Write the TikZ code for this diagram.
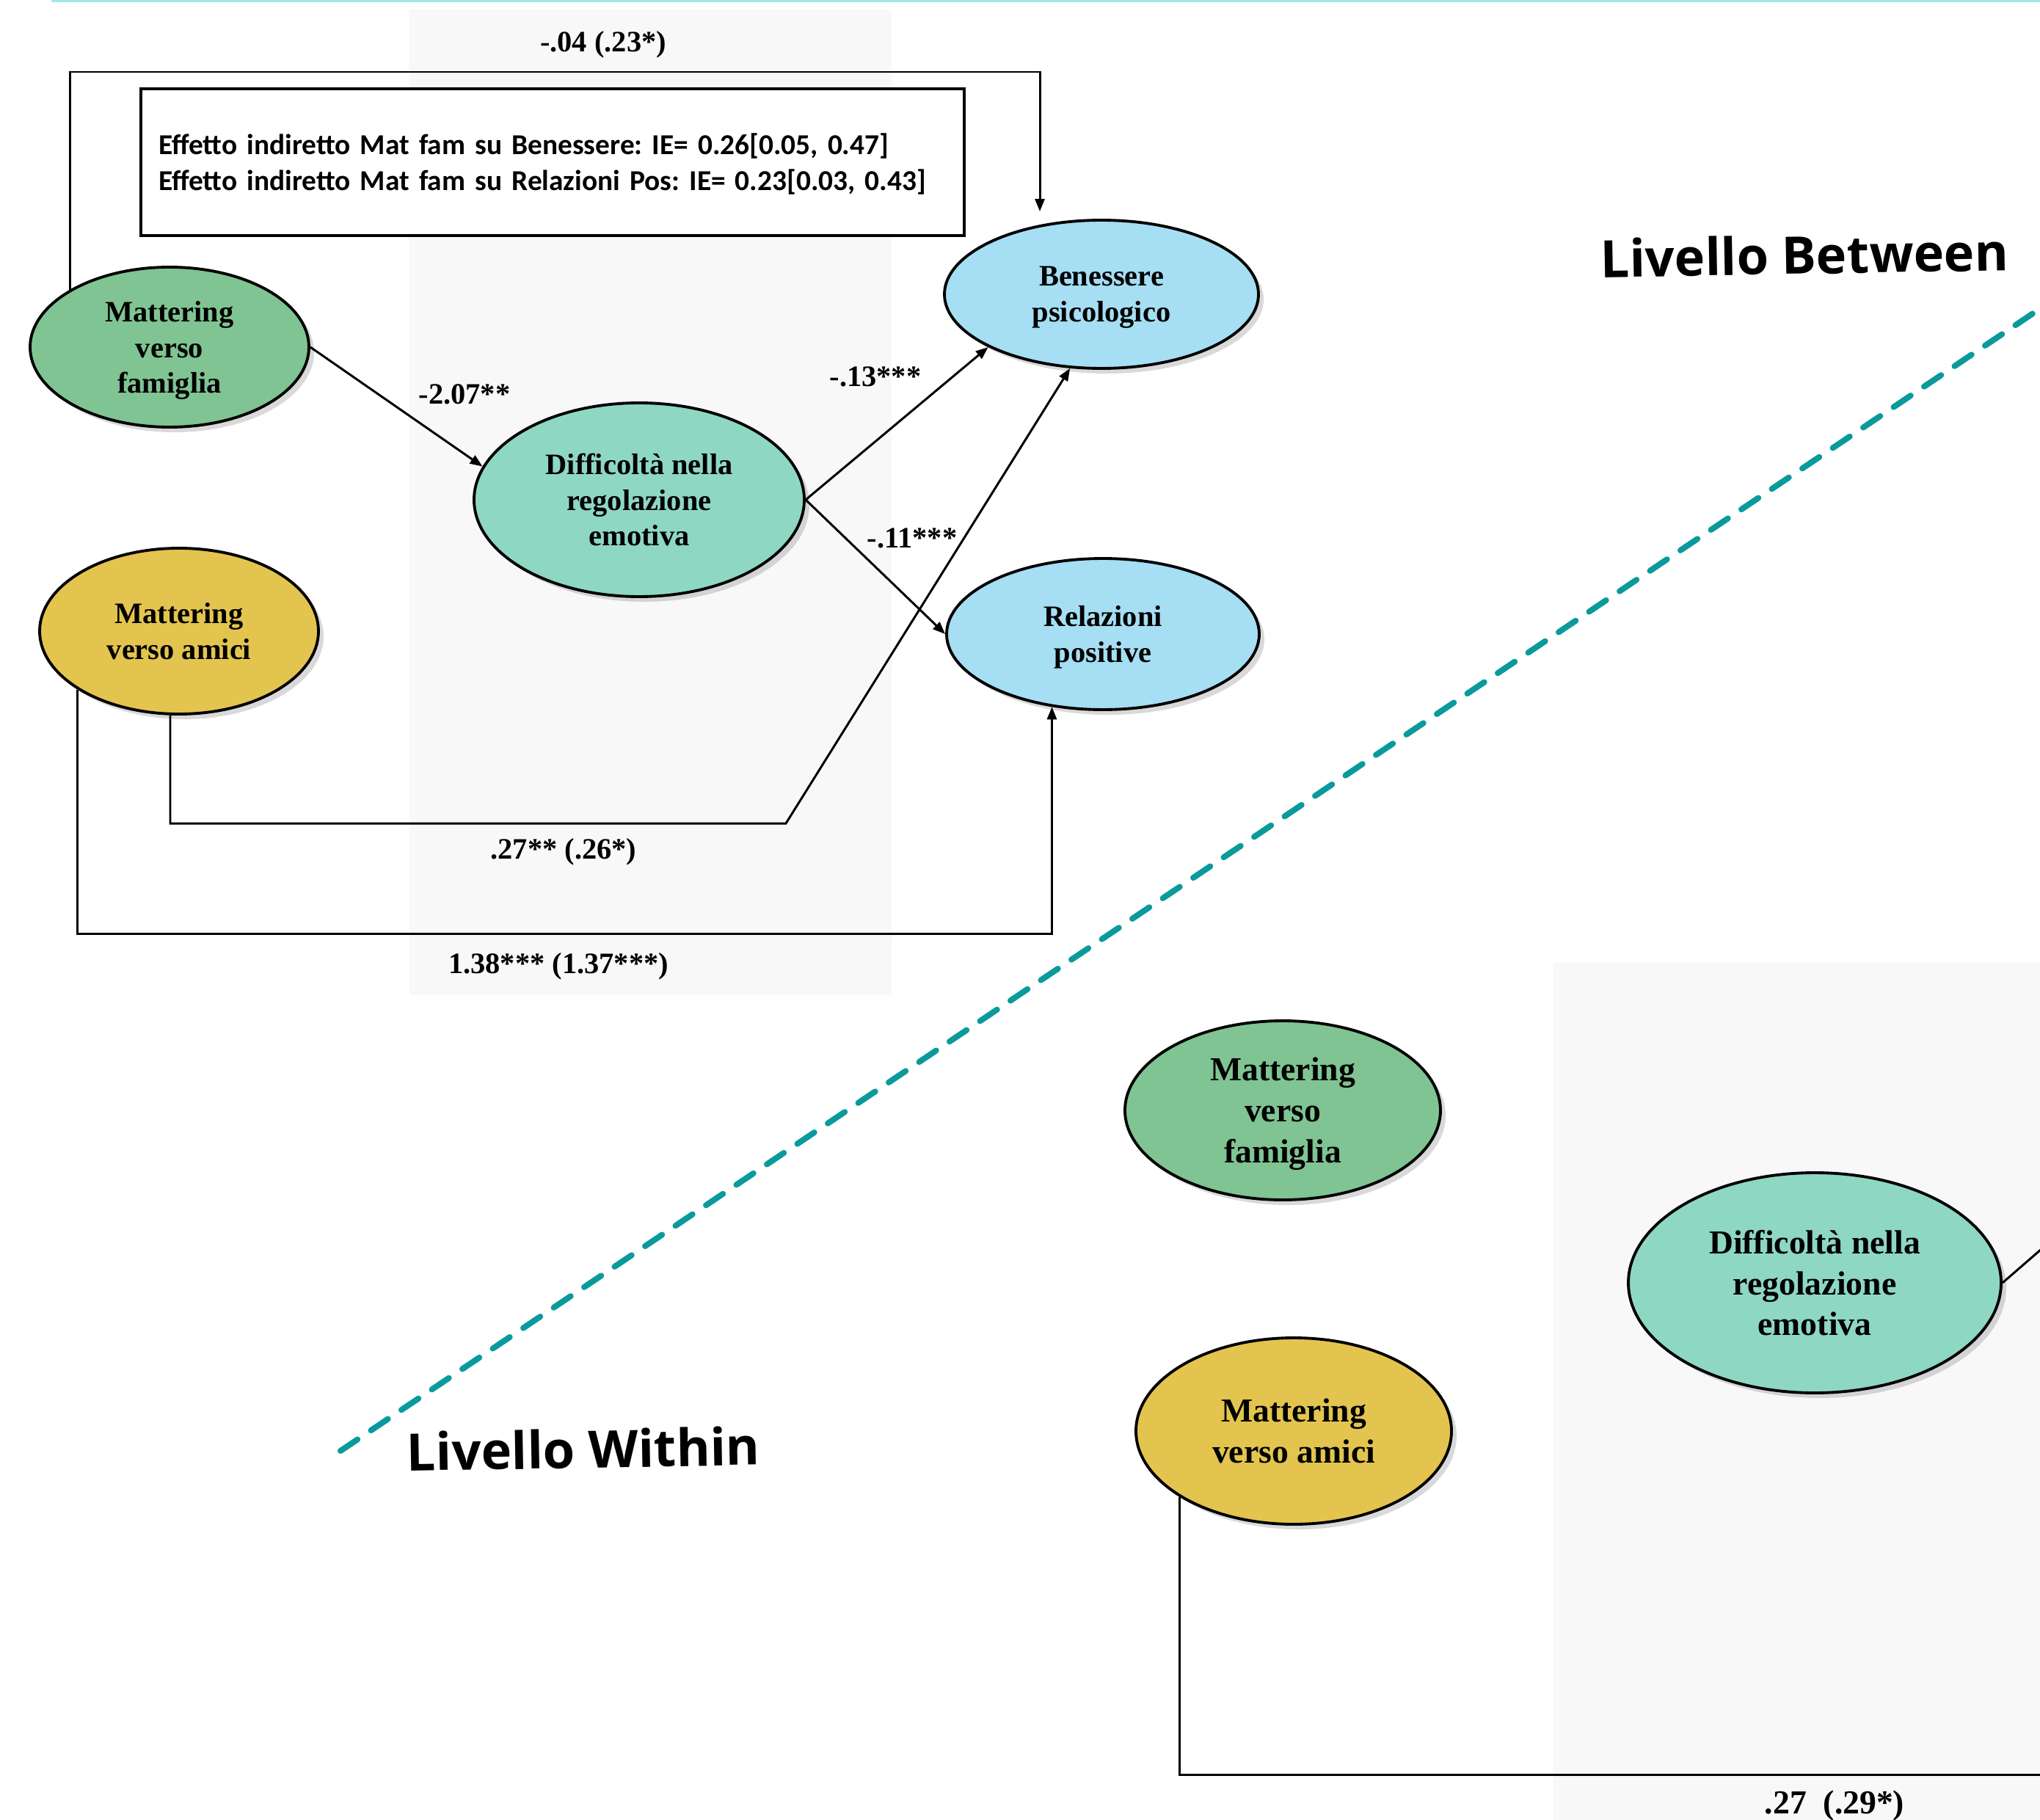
\documentclass[tikz,border=0pt]{standalone}
\usepackage{fontspec}
\setmainfont{Liberation Serif}
\newfontfamily\boxfont{Carlito}
\newfontfamily\titlefont{Open Sans}
\usepackage{tikz}
\usetikzlibrary{arrows.meta,shapes.geometric,shadows,positioning}
\frenchspacing

\definecolor{famgreen}{HTML}{7FC492}
\definecolor{diffteal}{HTML}{8ED7C3}
\definecolor{amiciyellow}{HTML}{E3C44F}
\definecolor{outblue}{HTML}{A6DEF3}
\definecolor{panelgray}{HTML}{F8F8F8}
\definecolor{divteal}{HTML}{0A9A9C}
\definecolor{topcyan}{HTML}{A2E7E7}

\begin{document}
\begin{tikzpicture}[
  var/.style={ellipse,draw=black,line width=1.1pt,inner sep=0pt,align=center,text depth=-0.04cm,
    font=\bfseries\fontsize{11.5}{13.8}\selectfont,
    drop shadow={shadow xshift=0.07cm,shadow yshift=-0.07cm,opacity=0.3}},
  varbig/.style={var,font=\bfseries\fontsize{13}{15.9}\selectfont},
  coef/.style={font=\bfseries\fontsize{11.5}{13.8}\selectfont},
  coefbig/.style={font=\bfseries\fontsize{13}{15.9}\selectfont},
  link/.style={line width=0.85pt},
  arr/.style={link,-{Triangle[length=0.17cm,width=0.13cm]}},
  iebox/.style={draw=black,line width=1pt,fill=white,text width=10.74cm,align=left,text depth=0.49cm,
    inner xsep=0.24cm,minimum height=2cm,font=\boxfont\bfseries\fontsize{11.2}{13.9}\selectfont},
  title/.style={font=\titlefont\bfseries\fontsize{20}{24}\selectfont,rotate=1},
  divider/.style={draw=divteal,line width=0.08cm,line cap=round,dash pattern=on 0.28cm off 0.22cm}
]
\useasboundingbox (0,0) rectangle (27.8,-24.8);
\clip (0,0) rectangle (27.8,-24.8);

% background panels
\fill[panelgray] (5.58,-0.13) rectangle (12.15,-13.56);
\fill[panelgray] (21.17,-13.11) rectangle (27.8,-24.8);
\fill[topcyan] (0.70,0) rectangle (27.8,-0.035);

% Between level
\node[var,fill=famgreen,minimum width=3.8cm,minimum height=2.18cm] (fam1) at (2.31,-4.73) {Mattering\\verso\\famiglia};
\node[var,fill=diffteal,minimum width=4.5cm,minimum height=2.64cm] (diff1) at (8.71,-6.81) {Difficolt\`a nella\\regolazione\\emotiva};
\node[var,fill=amiciyellow,minimum width=3.8cm,minimum height=2.26cm] (amici1) at (2.44,-8.60) {Mattering\\verso amici};
\node[var,fill=outblue,minimum width=4.28cm,minimum height=2.02cm] (ben1) at (15.01,-4.01) {Benessere\\psicologico};
\node[var,fill=outblue,minimum width=4.26cm,minimum height=2.06cm] (rel1) at (15.03,-8.64) {Relazioni\\positive};

\node[iebox] (ie) at (7.53,-2.21) {Effetto indiretto Mat fam su Benessere: IE= 0.26[0.05, 0.47]\\
Effetto indiretto Mat fam su Relazioni Pos: IE= 0.23[0.03, 0.43]};

\coordinate (c1) at (14.17,-0.98);
\coordinate (c2) at (10.71,-11.22);
\coordinate (c3) at (10,-12.72);

\draw[arr] (fam1.east) -- (diff1.168);
\draw[arr] (diff1.east) -- (ben1.205);
\draw[arr] (diff1.east) -- (rel1.west);
\draw[arr] (fam1.150) |- (c1) -- ([yshift=1mm]c1 |- ben1.north);
\draw[arr] ([xshift=-1.2mm]amici1.south) |- (c2) -- (ben1.247);
\draw[arr] (amici1.210) |- (c3) -| (rel1.235);

\node[coef] (w1) at (8.22,-0.61) {-.04 (.23*)};
\node[coef] (w2) at (6.33,-5.37) {-2.07**};
\node[coef] (w3) at (11.93,-5.13) {-.13***};
\node[coef] (w4) at (12.43,-7.33) {-.11***};
\node[coef] (w5) at (7.68,-11.61) {.27** (.26*)};
\node[coef] (w6) at (7.61,-13.17) {1.38*** (1.37***)};

% Within level
\node[varbig,fill=famgreen,minimum width=4.3cm,minimum height=2.44cm] (fam2) at (17.48,-15.13) {Mattering\\verso\\famiglia};
\node[varbig,fill=diffteal,minimum width=5.08cm,minimum height=3cm] (diff2) at (24.73,-17.48) {Difficolt\`a nella\\regolazione\\emotiva};
\node[varbig,fill=amiciyellow,minimum width=4.3cm,minimum height=2.54cm] (amici2) at (17.63,-19.50) {Mattering\\verso amici};

\coordinate (e1) at (27.9,-24.18);
\coordinate (e2) at (27.9,-16.95);
\draw[link] (amici2.210) |- (e1);
\draw[link] (diff2.east) -- (e2);

\node[coefbig] (w7) at (25.00,-24.60) {.27\ \ (.29*)};

% level divider
\coordinate (d1) at (4.64,-19.77);
\coordinate (d2) at (28.3,-3.87);
\draw[divider] (d1) -- (d2);

\node[title] (tb) at (24.59,-3.47) {Livello Between};
\node[title] (tw) at (7.95,-19.74) {Livello Within};

\end{tikzpicture}
\end{document}
